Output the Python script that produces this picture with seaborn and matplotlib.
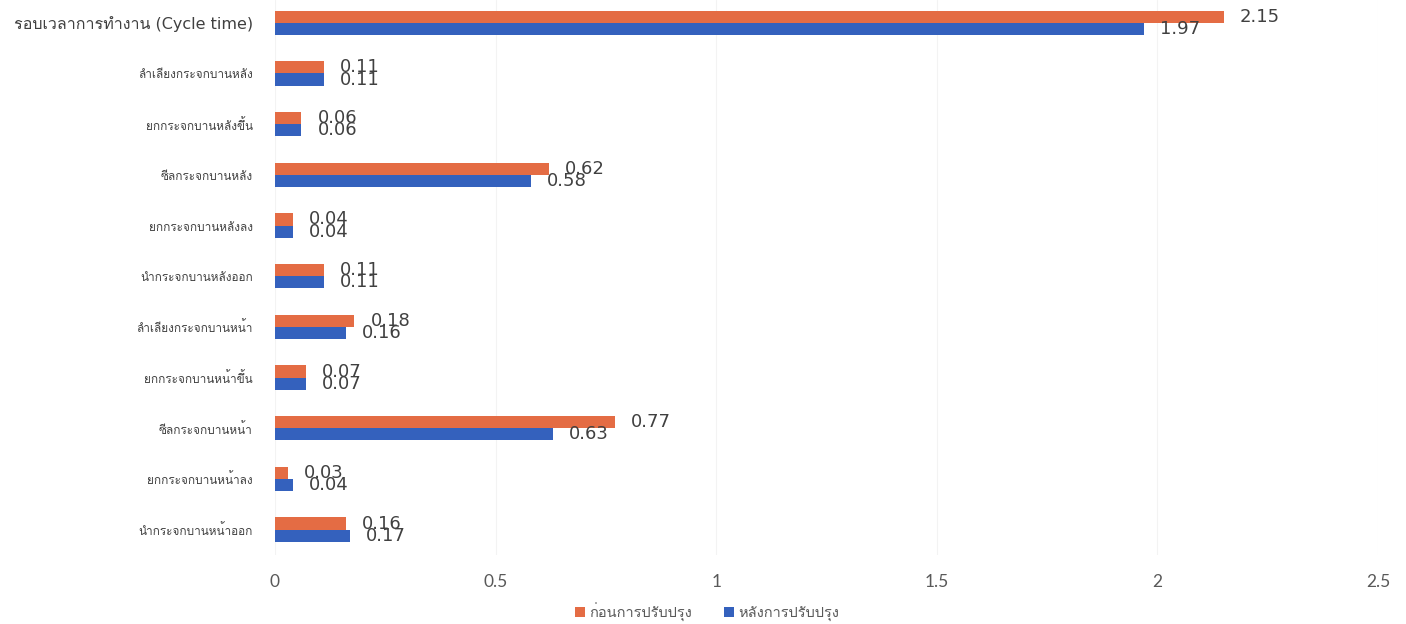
import matplotlib
matplotlib.use("Agg")
import matplotlib.pyplot as plt
import seaborn as sns
import pandas as pd

categories = [
    "รอบเวลาการทำงาน (Cycle time)",
    "ลำเลียงกระจกบานหลัง",
    "ยกกระจกบานหลังขึ้น",
    "ซีลกระจกบานหลัง",
    "ยกกระจกบานหลังลง",
    "นำกระจกบานหลังออก",
    "ลำเลียงกระจกบานหน้า",
    "ยกกระจกบานหน้าขึ้น",
    "ซีลกระจกบานหน้า",
    "ยกกระจกบานหน้าลง",
    "นำกระจกบานหน้าออก",
]
before = [2.15, 0.11, 0.06, 0.62, 0.04, 0.11, 0.18, 0.07, 0.77, 0.03, 0.16]
after = [1.97, 0.11, 0.06, 0.58, 0.04, 0.11, 0.16, 0.07, 0.63, 0.04, 0.17]
series_names = ["ก่อนการปรับปรุง", "หลังการปรับปรุง"]
x_ticks = [0, 0.5, 1, 1.5, 2, 2.5]
x_tick_labels = ["0", "0.5", "1", "1.5", "2", "2.5"]

df = pd.DataFrame({
    "task": categories * 2,
    "value": before + after,
    "series": [series_names[0]] * len(categories) + [series_names[1]] * len(categories),
})

sns.set_theme(style="white")
plt.rcParams["font.family"] = ["DejaVu Sans", "Loma", "Noto Sans Thai Looped"]

colors = ["#E46C44", "#3461BD"]
fig = plt.figure(figsize=(14.06, 6.24), dpi=100)
ax = fig.add_axes([275 / 1406, 1 - 555 / 624, 1103 / 1406, 555 / 624])

sns.barplot(data=df, x="value", y="task", hue="series", order=categories,
            hue_order=series_names, palette=colors, orient="h", width=0.48,
            gap=0, ax=ax, saturation=1, legend=True, errorbar=None,
            linewidth=0)

ax.set_xlim(0, 2.5)
ax.set_ylim(10.5, -0.45)
ax.set_xticks(x_ticks)
ax.set_xticklabels(x_tick_labels, fontsize=12.5, color="#595959", family=["Lato", "DejaVu Sans"])
ax.tick_params(axis="x", length=0, pad=14)
ax.tick_params(axis="y", length=0, pad=16)
for i, lab in enumerate(ax.get_yticklabels()):
    lab.set_fontsize(11.5 if i == 0 else 8.5)
    lab.set_color("#404040")
ax.set_xlabel("")
ax.set_ylabel("")
for s in ax.spines.values():
    s.set_visible(False)
ax.grid(axis="x", color="#f3f3f3", linewidth=0.8)
ax.set_axisbelow(True)

for cont, vals in zip(ax.containers, [before, after]):
    ax.bar_label(cont, labels=[f"{v:.2f}" for v in vals], padding=11.5,
                 fontsize=13, color="#404040", family=["DejaVu Sans"])

leg = ax.legend(loc="center", bbox_to_anchor=(707 / 1406, 1 - 612 / 624),
                bbox_transform=fig.transFigure, ncol=2, frameon=False,
                fontsize=10.5, handlelength=0.7, handleheight=0.7,
                handletextpad=0.3, columnspacing=2.2, borderpad=0.2)
for t in leg.get_texts():
    t.set_color("#595959")

fig.savefig("out.png", dpi=100)
